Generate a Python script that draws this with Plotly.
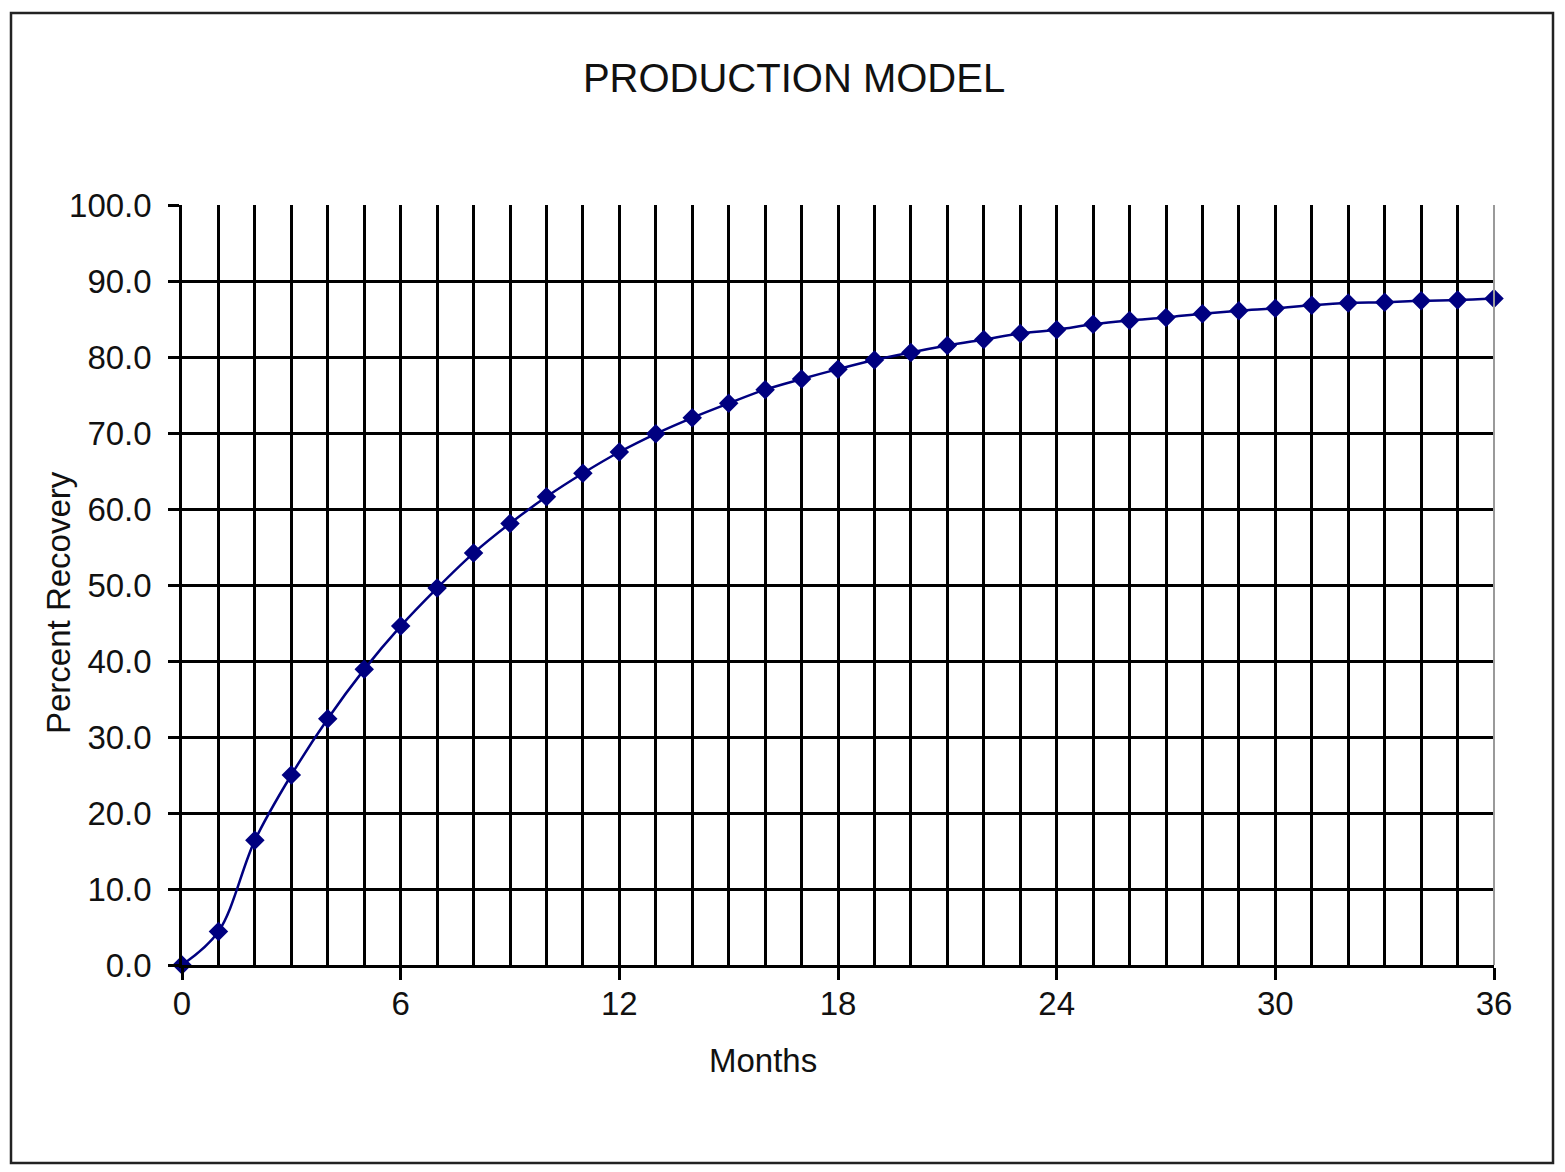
import plotly.graph_objects as go

# Data
months = list(range(0, 37))
recovery = [0.0, 4.4, 16.4, 25.0, 32.4, 38.9, 44.6, 49.6, 54.2, 58.1,
            61.6, 64.7, 67.5, 69.9, 72.0, 73.9, 75.7, 77.1, 78.4, 79.6,
            80.6, 81.5, 82.3, 83.1, 83.6, 84.3, 84.8, 85.2, 85.7, 86.1,
            86.4, 86.8, 87.1, 87.2, 87.4, 87.5, 87.7]
x_ticks = [0, 6, 12, 18, 24, 30, 36]
y_ticks = [0, 10, 20, 30, 40, 50, 60, 70, 80, 90, 100]

title_text = "PRODUCTION MODEL"
x_title = "Months"
y_title = "Percent Recovery"

FONT = "Liberation Sans, Arial, sans-serif"
TXT = "#111111"

W, H = 1565, 1172
L, R, T, B = 182, 71, 205, 207
pw, ph = W - L - R, H - T - B

def px_x(p):
    return (p - L) / pw

def px_y(p):
    return (H - B - p) / ph

fig = go.Figure()
fig.add_trace(go.Scatter(
    x=months, y=recovery, mode="lines+markers",
    line=dict(color="#000080", width=2.5, shape="spline", smoothing=1.0),
    marker=dict(symbol="diamond", size=15, color="#000080",
                line=dict(width=0)),
    showlegend=False, cliponaxis=False,
))

fig.update_layout(
    width=W, height=H,
    margin=dict(l=L, r=R, t=T, b=B, autoexpand=False),
    paper_bgcolor="white", plot_bgcolor="white",
    font=dict(family=FONT, color=TXT, size=33),
    title=dict(text=title_text, x=794 / W, xref="container", xanchor="center",
               y=1 - 78 / H, yref="container", yanchor="middle",
               font=dict(family=FONT, size=40, color=TXT)),
    xaxis=dict(range=[0, 36], tickvals=x_ticks, ticktext=[str(v) for v in x_ticks],
               showgrid=True, gridcolor="#000000", gridwidth=2.5,
               minor=dict(dtick=1, showgrid=True, gridcolor="#000000", gridwidth=2.5, ticks=""),
               ticks="outside", ticklen=12, tickwidth=2.5, tickcolor="#000000",
               showline=True, linecolor="#000000", linewidth=2.5,
               zeroline=False, automargin=False, ticklabelstandoff=-4,
               tickfont=dict(family=FONT, size=33, color=TXT)),
    yaxis=dict(range=[0, 100], tickvals=y_ticks, tickformat=".1f",
               showgrid=True, gridcolor="#000000", gridwidth=2.5,
               ticks="outside", ticklen=11, tickwidth=2.5, tickcolor="#000000",
               showline=True, linecolor="#000000", linewidth=2.5,
               zeroline=False, automargin=False, ticklabelstandoff=10,
               tickfont=dict(family=FONT, size=33, color=TXT)),
)

# Axis titles placed as in the reference
fig.add_annotation(text=x_title, xref="paper", yref="paper",
                   x=px_x(763), y=px_y(1060), xanchor="center", yanchor="middle",
                   showarrow=False, font=dict(family=FONT, size=33, color=TXT))
fig.add_annotation(text=y_title, xref="paper", yref="paper", textangle=-90,
                   x=px_x(58), y=px_y(603), xanchor="center", yanchor="middle",
                   showarrow=False, font=dict(family=FONT, size=33, color=TXT))

# Light grey right edge of the plot area
fig.add_shape(type="line", xref="paper", yref="paper", x0=1, x1=1, y0=0, y1=1,
              line=dict(color="#9a9a9a", width=2), layer="above")
# Outer chart border
fig.add_shape(type="rect", xref="paper", yref="paper",
              x0=px_x(11), x1=px_x(1553), y0=px_y(1163), y1=px_y(13),
              line=dict(color="#222222", width=2.5), fillcolor="rgba(0,0,0,0)")

fig.write_html("out.html", config={"displayModeBar": False},
               post_script="document.body.style.margin='0';document.body.style.padding='0';")
